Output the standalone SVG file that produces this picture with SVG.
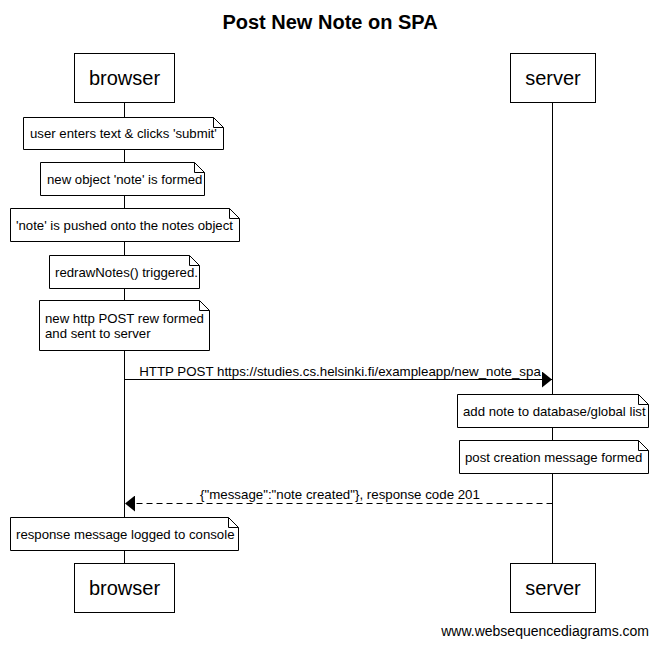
<svg xmlns="http://www.w3.org/2000/svg" width="658" height="646" viewBox="0 0 658 646">
<defs>
<style>
text{font-family:"Liberation Sans",Arial,sans-serif;fill:#000}
.actor rect{fill:#fff;stroke:#000;stroke-width:1}
.actor text{font-size:20px;text-anchor:middle}
.note path{fill:#fff;stroke:#000;stroke-width:1}
.note text{font-size:13.2px}
.msg{font-size:13.3px;text-anchor:middle}
.life{stroke:#000;stroke-width:1;fill:none}
</style>
<marker id="ah" viewBox="0 0 10 16" refX="10" refY="8" markerWidth="10" markerHeight="16" markerUnits="userSpaceOnUse" orient="auto">
<path d="M0,0 L10,8 L0,16 Z" fill="#000"/>
</marker>
</defs>
<rect width="658" height="646" fill="#fff"/>
<text x="330" y="29" font-size="20" font-weight="bold" text-anchor="middle">Post New Note on SPA</text>
<g id="lifelines">
<line class="life" x1="124.5" y1="102" x2="124.5" y2="563"/>
<line class="life" x1="552.5" y1="102" x2="552.5" y2="563"/>
</g>
<g id="actor-browser-top" class="actor"><rect x="74.5" y="53.5" width="100" height="49"/><text x="124.5" y="85">browser</text></g>
<g id="actor-server-top" class="actor"><rect x="510.5" y="53.5" width="85" height="49"/><text x="553" y="85">server</text></g>
<g id="actor-browser-bottom" class="actor"><rect x="74.5" y="563.5" width="100" height="49"/><text x="124.5" y="595">browser</text></g>
<g id="actor-server-bottom" class="actor"><rect x="510.5" y="563.5" width="85" height="49"/><text x="553" y="595">server</text></g>
<g id="note1" class="note"><path d="M23.5,117.5 H213.5 L223.5,127.5 V149.5 H23.5 Z M213.5,117.5 V127.5 H223.5"/><text x="30" y="138">user enters text &amp; clicks 'submit'</text></g>
<g id="note2" class="note"><path d="M40.5,162.5 H194.5 L204.5,172.5 V195.5 H40.5 Z M194.5,162.5 V172.5 H204.5"/><text x="47" y="184">new object 'note' is formed</text></g>
<g id="note3" class="note"><path d="M10.5,208.5 H229.5 L239.5,218.5 V241.5 H10.5 Z M229.5,208.5 V218.5 H239.5"/><text x="16" y="230">'note' is pushed onto the notes object</text></g>
<g id="note4" class="note"><path d="M49.5,255.5 H189.5 L199.5,265.5 V288.5 H49.5 Z M189.5,255.5 V265.5 H199.5"/><text x="55" y="277">redrawNotes() triggered.</text></g>
<g id="note5" class="note"><path d="M39.5,300.5 H199.5 L209.5,310.5 V350.5 H39.5 Z M199.5,300.5 V310.5 H209.5"/><text x="45" y="323">new http POST rew formed</text><text x="45" y="338">and sent to server</text></g>
<g id="note6" class="note"><path d="M457.5,394.5 H638.5 L648.5,404.5 V427.5 H457.5 Z M638.5,394.5 V404.5 H648.5"/><text x="463" y="416">add note to database/global list</text></g>
<g id="note7" class="note"><path d="M459.5,440.5 H638.5 L648.5,450.5 V473.5 H459.5 Z M638.5,440.5 V450.5 H648.5"/><text x="465" y="462">post creation message formed</text></g>
<g id="note8" class="note"><path d="M10.5,517.5 H228.5 L238.5,527.5 V550.5 H10.5 Z M228.5,517.5 V527.5 H238.5"/><text x="16" y="539">response message logged to console</text></g>
<g id="connectors">
<line x1="124.5" y1="379.5" x2="552" y2="379.5" stroke="#000" stroke-width="1" marker-end="url(#ah)"/>
<text class="msg" x="340" y="376">HTTP POST https://studies.cs.helsinki.fi/exampleapp/new_note_spa</text>
<line x1="552.5" y1="503.5" x2="125" y2="503.5" stroke="#000" stroke-width="1" stroke-dasharray="6,4" marker-end="url(#ah)"/>
<text class="msg" x="340" y="499">{"message":"note created"}, response code 201</text>
</g>
<text x="649" y="636" font-size="14" text-anchor="end">www.websequencediagrams.com</text>
</svg>
